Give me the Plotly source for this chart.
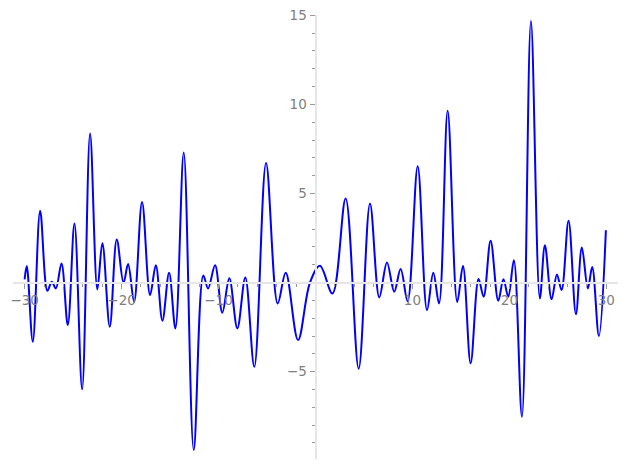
import plotly.graph_objects as go

# Points (local extrema and a few crossings)
x_vals = [-30.0, -29.78, -29.16, -28.4, -27.65, -27.2, -26.78, -26.2, -25.55, -24.86,
          -24.07, -23.25, -22.5, -21.98, -21.22, -20.5, -19.8, -19.33, -18.71, -17.89,
          -17.06, -16.47, -15.79, -15.1, -14.45, -13.59, -12.56, -11.57, -11.08, -10.36,
          -9.61, -8.89, -8.06, -7.24, -6.31, -5.10, -3.90, -3.07, -1.80, -0.57,
          0.46, 1.75, 3.11, 4.45, 5.62, 6.58, 7.37, 8.12, 8.78, 9.5,
          10.54, 11.5, 12.15, 12.74, 13.63, 14.62, 15.21, 16.0, 16.82, 17.34,
          18.06, 18.85, 19.38, 19.88, 20.46, 21.29, 22.22, 23.14, 23.66, 24.35,
          24.9, 25.38, 26.1, 26.86, 27.47, 28.09, 28.54, 29.23, 29.95]
y_vals = [0.18, 0.93, -3.32, 4.03, -0.46, 0.05, -0.33, 1.07, -2.38, 3.32,
          -5.99, 8.37, -0.38, 2.23, -2.48, 2.42, -0.01, 1.04, -1.08, 4.53,
          -0.70, 0.98, -2.14, 0.55, -2.57, 7.30, -9.39, 0.40, -0.33, 0.98,
          -1.69, 0.24, -2.57, 0.29, -4.72, 6.72, -1.17, 0.55, -3.22, 0.0,
          0.94, -0.61, 4.72, -4.83, 4.44, -0.83, 1.13, -0.51, 0.76, -1.05,
          6.53, -1.54, 0.55, -1.17, 9.64, -1.09, 0.93, -4.53, 0.20, -0.79,
          2.35, -1.02, 0.19, -0.79, 1.26, -7.53, 14.68, -0.89, 2.10, -0.94,
          0.46, -0.42, 3.47, -1.77, 1.97, -0.33, 0.87, -3.0, 2.94]

x_ticks = [-30, -20, -10, 10, 20, 30]
x_tick_text = ["\u221230", "\u221220", "\u221210", "10", "20", "30"]
y_ticks = [-5, 5, 10, 15]
y_tick_text = ["\u22125", "5", "10", "15"]

x_range = [-31.2, 31.2]
y_range = [-9.9, 15.02]

fig = go.Figure()
fig.add_trace(go.Scatter(x=x_vals, y=y_vals, mode="lines",
                         line=dict(color="#0000ff", width=2, shape="spline", smoothing=1.0),
                         hoverinfo="skip", showlegend=False, cliponaxis=False))

x_pos = (0 - y_range[0]) / (y_range[1] - y_range[0])
y_pos = (0 - x_range[0]) / (x_range[1] - x_range[0])

tick_font = dict(family="DejaVu Sans", size=13.5, color="#7f7f7f")

fig.update_layout(
    width=627, height=469,
    margin=dict(l=5, r=17, t=7, b=18, autoexpand=False),
    paper_bgcolor="white", plot_bgcolor="white",
    xaxis=dict(range=x_range, anchor="free", position=x_pos, automargin=False,
               showgrid=False, zeroline=False, ticklabeloverflow="allow",
               showline=True, linecolor="#e6e6e6", linewidth=2,
               tickvals=x_ticks, ticktext=x_tick_text,
               ticks="outside", ticklen=5, tickwidth=1, tickcolor="#999999",
               tickfont=tick_font,
               minor=dict(tickvals=[v for v in range(-30, 31, 2) if v % 10 != 0],
                          ticks="outside", ticklen=3, tickwidth=1, tickcolor="#999999",
                          showgrid=False)),
    yaxis=dict(range=y_range, anchor="free", position=y_pos, automargin=False,
               showgrid=False, zeroline=False, ticklabeloverflow="allow",
               showline=True, linecolor="#e6e6e6", linewidth=2,
               tickvals=y_ticks, ticktext=y_tick_text,
               ticks="outside", ticklen=5, tickwidth=1, tickcolor="#999999",
               tickfont=tick_font,
               minor=dict(tickvals=[v for v in range(-9, 16) if v % 5 != 0],
                          ticks="outside", ticklen=3, tickwidth=1, tickcolor="#999999",
                          showgrid=False)),
)

fig.write_html("out.html")
